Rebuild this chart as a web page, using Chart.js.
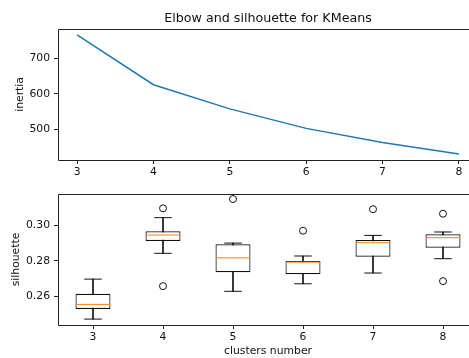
<!DOCTYPE html>
<html>
<head>
<meta charset="utf-8">
<script src="https://cdn.jsdelivr.net/npm/chart.js@4"></script>
<style>
  html, body { margin: 0; padding: 0; background: #fff; overflow: hidden; width: 469px; height: 358px; }
  canvas { position: absolute; left: 0; }
  #elbow { top: 0; }
  #silhouette { top: 178px; }
</style>
</head>
<body>
<canvas id="elbow" width="478" height="180"></canvas>
<canvas id="silhouette" width="478" height="180"></canvas>
<script>
// ----------------------- data --------------------------------------------//
var clusters = [3, 4, 5, 6, 7, 8];
var clusterLabels = ['3', '4', '5', '6', '7', '8'];
var inertia = [766, 626, 558, 503, 463, 431];
var inertiaTicks = [500, 600, 700];

var silWhiskerLow = [0.2475, 0.2842, 0.2630, 0.2672, 0.2732, 0.2812];
var silQ1 = [0.2531, 0.2911, 0.2737, 0.2725, 0.2823, 0.2873];
var silMedian = [0.2557, 0.2944, 0.2817, 0.2793, 0.2901, 0.2929];
var silQ3 = [0.2616, 0.2965, 0.2892, 0.2799, 0.2916, 0.2948];
var silWhiskerHigh = [0.2698, 0.3041, 0.2899, 0.2827, 0.2942, 0.2961];
var silOutliers = [
  { x: '4', y: 0.3093 }, { x: '4', y: 0.2659 },
  { x: '5', y: 0.3145 },
  { x: '6', y: 0.2968 },
  { x: '7', y: 0.3088 },
  { x: '8', y: 0.3063 }, { x: '8', y: 0.2687 }
];
var silTicks = [0.26, 0.28, 0.30];

Chart.defaults.font.family = 'DejaVu Sans';
Chart.defaults.font.size = 10.8;
Chart.defaults.color = '#111';
Chart.defaults.animation = false;
Chart.defaults.events = [];

var ink = '#111';

// spines around the plot area (the right one falls outside the window)
var frame = {
  id: 'frame',
  afterDatasetsDraw: function (chart) {
    var a = chart.chartArea;
    var ctx = chart.ctx;
    var l = Math.round(a.left) + 0.5, t = Math.round(a.top) + 0.5, b = Math.round(a.bottom) + 0.5;
    ctx.save();
    ctx.strokeStyle = '#222';
    ctx.lineWidth = 1;
    ctx.beginPath();
    ctx.moveTo(a.right + 2, t);
    ctx.lineTo(l, t);
    ctx.lineTo(l, b);
    ctx.lineTo(a.right + 2, b);
    ctx.stroke();
    ctx.restore();
  }
};

var tickGrid = { drawOnChartArea: false, drawTicks: true, tickLength: 4, color: '#222', offset: false };

// ----------------------- Elbow --------------------------------------------//
var ctx = document.getElementById('elbow').getContext('2d');
var elbow = new Chart(ctx, {
  type: 'line',
  data: {
    datasets: [{
      data: clusters.map(function (c, i) { return { x: c, y: inertia[i] }; }),
      borderColor: '#1f77b4',
      borderWidth: 1.5,
      pointRadius: 0,
      tension: 0,
      fill: false
    }]
  },
  options: {
    responsive: false,
    layout: { padding: 0, autoPadding: false },
    plugins: {
      legend: { display: false },
      tooltip: { enabled: false },
      title: {
        display: true,
        fullSize: false,
        text: 'Elbow and silhouette for KMeans',
        color: '#111',
        font: { size: 12.7, weight: 'normal' },
        padding: { top: 10.6, bottom: 3.1 }
      }
    },
    scales: {
      x: {
        type: 'linear',
        min: 2.75,
        max: 8.25,
        grid: tickGrid,
        border: { display: false },
        ticks: { padding: 2, maxRotation: 0 },
        afterBuildTicks: function (s) { s.ticks = clusters.map(function (v) { return { value: v }; }); },
        afterFit: function (s) { s.height = 20; }
      },
      y: {
        type: 'linear',
        min: 414,
        max: 783,
        grid: tickGrid,
        border: { display: false },
        ticks: { padding: 4 },
        afterBuildTicks: function (s) { s.ticks = inertiaTicks.map(function (v) { return { value: v }; }); },
        afterFit: function (s) { s.width = 58; },
        title: { display: true, text: 'inertia', padding: { top: 13.5, bottom: 0 } }
      }
    }
  },
  plugins: [frame]
});

// ----------------------- Silhouette boxplots --------------------------------------------//
var ctx2 = document.getElementById('silhouette').getContext('2d');
var silhouette = new Chart(ctx2, {
  type: 'bar',
  data: {
    labels: clusterLabels,
    datasets: [
      {
        // whiskers
        type: 'bar',
        data: silWhiskerLow.map(function (lo, i) { return [lo, silWhiskerHigh[i]]; }),
        backgroundColor: ink,
        borderWidth: 0,
        barThickness: 1,
        grouped: false,
        order: 5
      },
      {
        // boxes
        type: 'bar',
        data: silQ1.map(function (q1, i) { return [q1, silQ3[i]]; }),
        backgroundColor: '#fff',
        borderColor: ink,
        borderWidth: 1.2,
        borderSkipped: false,
        barPercentage: 0.5,
        categoryPercentage: 1,
        grouped: false,
        order: 4
      },
      {
        // caps low
        type: 'line',
        data: silWhiskerLow,
        showLine: false,
        pointStyle: 'line',
        pointRadius: 8.75,
        pointBorderColor: ink,
        pointBorderWidth: 1,
        order: 3
      },
      {
        // caps high
        type: 'line',
        data: silWhiskerHigh,
        showLine: false,
        pointStyle: 'line',
        pointRadius: 8.75,
        pointBorderColor: ink,
        pointBorderWidth: 1,
        order: 3
      },
      {
        // medians
        type: 'line',
        data: silMedian,
        showLine: false,
        pointStyle: 'line',
        pointRadius: 17,
        pointBorderColor: '#ff7f0e',
        pointBorderWidth: 1,
        order: 2
      },
      {
        // fliers
        type: 'line',
        data: silOutliers,
        showLine: false,
        pointStyle: 'circle',
        pointRadius: 3.5,
        pointBackgroundColor: 'rgba(0,0,0,0)',
        pointBorderColor: ink,
        pointBorderWidth: 1,
        order: 1
      }
    ]
  },
  options: {
    responsive: false,
    layout: { padding: { top: 16 }, autoPadding: false },
    plugins: {
      legend: { display: false },
      tooltip: { enabled: false }
    },
    scales: {
      x: {
        type: 'category',
        offset: true,
        grid: tickGrid,
        border: { display: false },
        ticks: { padding: 2, maxRotation: 0 },
        afterFit: function (s) { s.height = 33; },
        title: { display: true, text: 'clusters number', padding: { top: 0, bottom: 0 } }
      },
      y: {
        type: 'linear',
        min: 0.2442,
        max: 0.3173,
        grid: tickGrid,
        border: { display: false },
        ticks: { padding: 4, callback: function (v) { return v.toFixed(2); } },
        afterBuildTicks: function (s) { s.ticks = silTicks.map(function (v) { return { value: v }; }); },
        afterFit: function (s) { s.width = 58; },
        title: { display: true, text: 'silhouette', padding: { top: 10, bottom: 0 } }
      }
    }
  },
  plugins: [frame]
});
</script>
</body>
</html>
